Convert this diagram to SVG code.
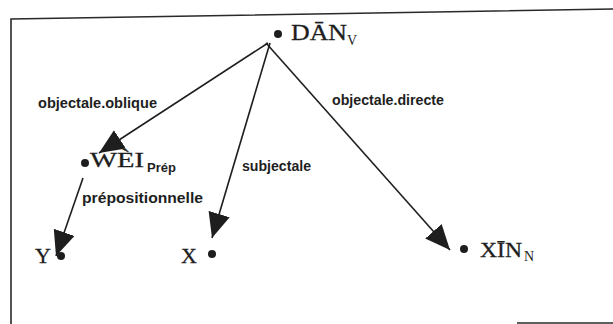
<svg xmlns="http://www.w3.org/2000/svg" width="613" height="324" viewBox="0 0 613 324">
<style>
.frame{fill:none;stroke:#2a2a2a;stroke-width:1.6}
.edge{fill:none;stroke:#1e1e1e;stroke-width:1.6}
.dot{fill:#1e1e1e}
.nt{font-family:"Liberation Serif","Times New Roman",serif;fill:#1e1e1e;stroke:#1e1e1e;stroke-width:0.3}
.sub{font-family:"Liberation Serif","Times New Roman",serif;fill:#1e1e1e;font-size:14px}
.subs{font-family:"Liberation Sans",Arial,sans-serif;font-weight:bold;fill:#1e1e1e;font-size:13px}
.lbl{font-family:"Liberation Sans",Arial,sans-serif;font-weight:bold;fill:#1e1e1e;font-size:14px}
</style>
<defs>
<marker id="ah" viewBox="0 0 25 22" refX="25" refY="11" markerWidth="25" markerHeight="22" orient="auto" markerUnits="userSpaceOnUse">
<path d="M0,0 L25,11 L0,22 z" fill="#1e1e1e"/>
</marker>
</defs>
<g id="frame">
<path class="frame" d="M11,324 L11,19 L613,9"/>
<path class="frame" d="M517,323 L613,323"/>
</g>
<g id="connectors">
<line class="edge" x1="268" y1="43" x2="99" y2="153" marker-end="url(#ah)"/>
<line class="edge" x1="270" y1="43" x2="212" y2="238" marker-end="url(#ah)"/>
<line class="edge" x1="266" y1="43" x2="450" y2="250" marker-end="url(#ah)"/>
<line class="edge" x1="83" y1="178" x2="56" y2="256" marker-end="url(#ah)"/>
<text class="lbl" x="38" y="108" textLength="119" lengthAdjust="spacingAndGlyphs">objectale.oblique</text>
<text class="lbl" x="332" y="105" textLength="112" lengthAdjust="spacingAndGlyphs">objectale.directe</text>
<text class="lbl" x="242" y="171" textLength="69" lengthAdjust="spacingAndGlyphs">subjectale</text>
<text class="lbl" x="82" y="203" textLength="121" lengthAdjust="spacingAndGlyphs">prépositionnelle</text>
</g>
<g id="node-dan">
<circle class="dot" cx="278" cy="34" r="4"/>
<text class="nt" x="291" y="40" font-size="24" textLength="56" lengthAdjust="spacingAndGlyphs">DĀN</text>
<text class="sub" x="347" y="45" font-size="15">V</text>
</g>
<g id="node-wei">
<circle class="dot" cx="85" cy="163" r="4"/>
<text class="nt" x="90" y="167" font-size="22" textLength="54" lengthAdjust="spacingAndGlyphs">WÈI</text>
<text class="subs" x="147" y="172">Prép</text>
</g>
<g id="node-y">
<text class="nt" x="35" y="263" font-size="22">Y</text>
<circle class="dot" cx="61" cy="256" r="4"/>
</g>
<g id="node-x">
<text class="nt" x="181" y="263" font-size="22">X</text>
<circle class="dot" cx="212" cy="254" r="4"/>
</g>
<g id="node-xin">
<circle class="dot" cx="464" cy="249" r="4"/>
<text class="nt" x="480" y="257" font-size="22" textLength="42" lengthAdjust="spacingAndGlyphs">XĪN</text>
<text class="sub" x="524" y="261">N</text>
</g>
</svg>
